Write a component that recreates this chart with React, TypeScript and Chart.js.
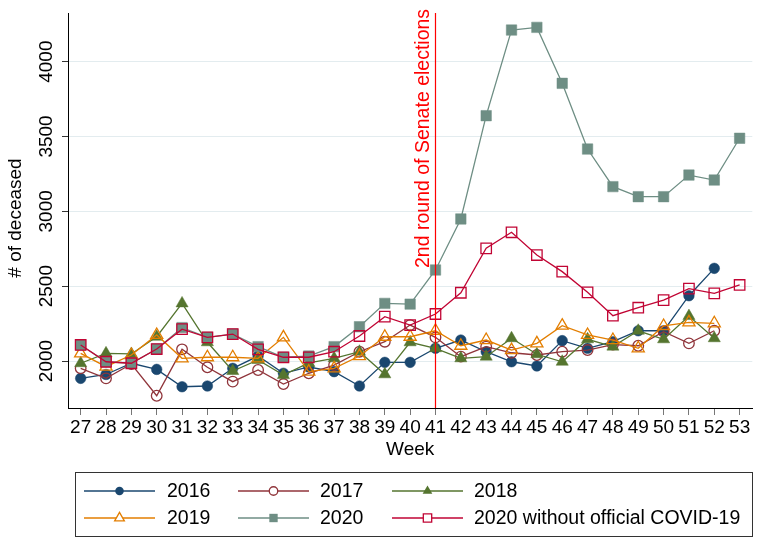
import React, { useEffect, useRef } from "react";
import { Chart, registerables } from "chart.js";

Chart.register(...registerables);

const FONT = "'Liberation Sans', Arial, Helvetica, sans-serif";

const weeks = ["27","28","29","30","31","32","33","34","35","36","37","38","39","40","41","42","43","44","45","46","47","48","49","50","51","52","53"];
const yTicks = [2000, 2500, 3000, 3500, 4000];

const d2016 = [1884,1910,1985,1944,1828,1833,1951,2033,1918,1960,1929,1833,1991,1991,2085,2140,2062,1995,1967,2136,2085,2129,2202,2202,2436,2619,null];
const d2017 = [1951,1884,1980,1768,2078,1958,1862,1940,1846,1918,1973,2062,2129,2240,2158,2029,2096,2055,2040,2062,2073,2110,2102,2196,2118,2202,null];
const d2018 = [1985,2051,2047,2162,2385,2125,1933,2007,1906,1987,2018,2062,1911,2125,2085,2018,2029,2152,2045,1995,2145,2096,2202,2145,2300,2152,null];
const d2019 = [2051,1962,2040,2174,2018,2025,2025,2018,2158,1929,1951,2033,2162,2162,2202,2102,2140,2073,2118,2236,2174,2140,2085,2234,2258,2252,null];
const d2020 = [2107,1995,1985,2080,2223,2158,2180,2096,2025,2033,2096,2229,2385,2380,2608,2949,3639,4211,4229,3855,3416,3165,3098,3098,3242,3209,3488];
const d2020w = [2107,1995,1985,2080,2213,2158,2180,2078,2025,2025,2062,2167,2296,2240,2314,2456,2753,2860,2708,2597,2459,2303,2356,2407,2484,2452,2508];

const electionWeek = "41";
const electionLabel = "2nd round of Senate elections";

type Series = { label: string; data: (number | null)[]; color: string; style: "circle" | "triangle" | "rect"; filled: boolean; radius: number };

const series: Series[] = [
  { label: "2016", data: d2016, color: "#1a476f", style: "circle", filled: true, radius: 5.3 },
  { label: "2017", data: d2017, color: "#90353b", style: "circle", filled: false, radius: 5.3 },
  { label: "2018", data: d2018, color: "#55752f", style: "triangle", filled: true, radius: 7 },
  { label: "2019", data: d2019, color: "#e37e00", style: "triangle", filled: false, radius: 7 },
  { label: "2020", data: d2020, color: "#6e8e84", style: "rect", filled: true, radius: 7.4 },
  { label: "2020 without official COVID-19", data: d2020w, color: "#c10534", style: "rect", filled: false, radius: 7.4 },
];

function drawMarker(ctx: CanvasRenderingContext2D, s: Series, x: number, y: number, r: number) {
  ctx.beginPath();
  if (s.style === "circle") {
    ctx.arc(x, y, r, 0, Math.PI * 2);
  } else if (s.style === "triangle") {
    for (let i = 0; i < 3; i++) {
      const a = (i * 2 * Math.PI) / 3;
      const px = x + Math.sin(a) * r;
      const py = y - Math.cos(a) * r;
      if (i === 0) ctx.moveTo(px, py); else ctx.lineTo(px, py);
    }
    ctx.closePath();
  } else {
    const h = r * Math.SQRT1_2;
    ctx.rect(x - h, y - h, 2 * h, 2 * h);
  }
  if (s.filled) {
    ctx.fillStyle = s.color;
    ctx.fill();
  } else {
    ctx.fillStyle = "#fff";
    ctx.fill();
    ctx.strokeStyle = s.color;
    ctx.lineWidth = 1.3;
    ctx.stroke();
  }
}

const overlay = {
  id: "overlay",
  afterDatasetsDraw(chart: any) {
    const { ctx, chartArea, scales } = chart;
    const xs = scales.x;
    const px = xs.getPixelForValue(weeks.indexOf(electionWeek));
    ctx.save();
    ctx.strokeStyle = "#ff0000";
    ctx.lineWidth = 1.2;
    ctx.beginPath();
    ctx.moveTo(px, chartArea.top);
    ctx.lineTo(px, chartArea.bottom);
    ctx.stroke();
    ctx.fillStyle = "#ff0000";
    ctx.font = `19.5px ${FONT}`;
    ctx.translate(px - 6, 268);
    ctx.rotate(-Math.PI / 2);
    ctx.textAlign = "left";
    ctx.textBaseline = "alphabetic";
    ctx.fillText(electionLabel, 0, 0);
    ctx.restore();
  },
  afterDraw(chart: any) {
    const { ctx, chartArea, scales } = chart;
    const ys = scales.y;
    ctx.save();
    ctx.fillStyle = "#000";
    ctx.font = `19px ${FONT}`;
    ctx.textAlign = "center";
    ctx.textBaseline = "alphabetic";
    for (const v of yTicks) {
      const py = ys.getPixelForValue(v);
      ctx.save();
      ctx.translate(52, py);
      ctx.rotate(-Math.PI / 2);
      ctx.fillText(String(v), 0, 0);
      ctx.restore();
    }
    // y title
    ctx.save();
    ctx.translate(21, 218);
    ctx.rotate(-Math.PI / 2);
    ctx.fillText("# of deceased", 0, 0);
    ctx.restore();
    // x title
    ctx.textBaseline = "middle";
    ctx.fillText("Week", (chartArea.left + chartArea.right) / 2, 450);

    // legend
    ctx.strokeStyle = "#333";
    ctx.lineWidth = 1;
    ctx.strokeRect(75.5, 472.5, 677, 64);
    const lineStart = [84, 238, 392];
    const lineEnd = [155, 309, 463];
    const textX = [167, 320, 474];
    const rowY = [491, 518];
    ctx.font = `19.5px ${FONT}`;
    ctx.textAlign = "left";
    ctx.textBaseline = "middle";
    series.forEach((s, i) => {
      const col = i % 3;
      const row = Math.floor(i / 3);
      const y = rowY[row];
      ctx.strokeStyle = s.color;
      ctx.lineWidth = 1.3;
      ctx.beginPath();
      ctx.moveTo(lineStart[col], y);
      ctx.lineTo(lineEnd[col], y);
      ctx.stroke();
      drawMarker(ctx, s, (lineStart[col] + lineEnd[col]) / 2, y, s.radius * 0.8);
      ctx.fillStyle = "#000";
      ctx.fillText(s.label, textX[col], y + 1);
    });
    ctx.restore();
  },
};

export default function App() {
  const ref = useRef<HTMLCanvasElement>(null);
  useEffect(() => {
    if (!ref.current) return;
    const chart = new Chart(ref.current, {
      type: "line",
      data: {
        labels: weeks,
        datasets: series.map((s, i) => ({
          label: s.label,
          data: s.data,
          borderColor: s.color,
          backgroundColor: s.filled ? s.color : "#ffffff",
          borderWidth: 1.3,
          pointStyle: s.style,
          pointRadius: s.radius,
          pointBorderColor: s.color,
          pointBackgroundColor: s.filled ? s.color : "rgba(255,255,255,0)",
          pointBorderWidth: s.filled ? 0.5 : 1.3,
          fill: false,
          tension: 0,
          order: series.length - i,
        })),
      },
      options: {
        animation: false,
        responsive: false,
        layout: { padding: { top: 13, right: 1, left: 0, bottom: 0 } },
        plugins: { legend: { display: false }, tooltip: { enabled: false } },
        scales: {
          x: {
            type: "category",
            offset: true,
            grid: { display: true, color: "rgba(0,0,0,0)", drawTicks: true, tickLength: 7, tickColor: "#777", offset: false },
            border: { display: true, color: "#000", width: 1 },
            ticks: { color: "#000", font: { family: FONT, size: 19 }, padding: 1, maxRotation: 0, minRotation: 0, autoSkip: false },
            afterFit: (s: any) => { s.height = 130; },
          },
          y: {
            type: "linear",
            min: 1686,
            max: 4325,
            grid: { color: "#e3ecef", lineWidth: 1, drawTicks: true, tickLength: 6, tickColor: "#333" },
            border: { display: true, color: "#000", width: 1 },
            ticks: { display: false },
            afterBuildTicks: (s: any) => { s.ticks = yTicks.map((v) => ({ value: v })); },
            afterFit: (s: any) => { s.width = 68; },
          },
        },
      },
      plugins: [overlay],
    });
    return () => chart.destroy();
  }, []);
  return (
    <div style={{ position: "absolute", left: 0, top: 0, width: 761, height: 538, background: "#fff" }}>
      <canvas ref={ref} width={761} height={538} style={{ display: "block" }} />
    </div>
  );
}
